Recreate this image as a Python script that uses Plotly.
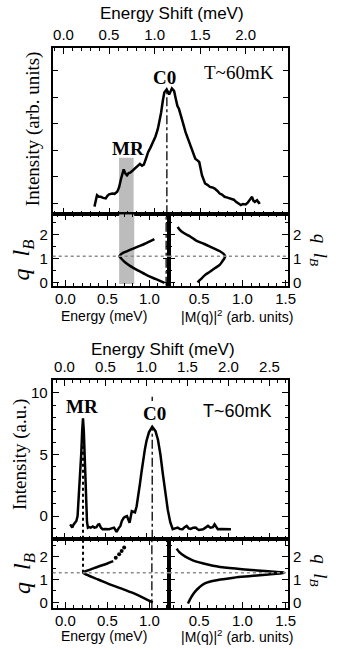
import plotly.graph_objects as go

W, H = 339, 650

# ---------------- upper figure (a) ----------------
# Raman spectrum: energy shift (meV) vs intensity (arb. units)
a_shift = [0.34, 0.355, 0.368, 0.39, 0.41, 0.435, 0.464, 0.48, 0.50, 0.536, 0.56, 0.59,
           0.61, 0.632, 0.661, 0.68, 0.697, 0.715, 0.732, 0.76, 0.786, 0.81, 0.839, 0.862,
           0.882, 0.905, 0.929, 0.955, 0.983, 1.01, 1.036, 1.055, 1.072, 1.09, 1.107, 1.133,
           1.16, 1.19, 1.214, 1.232, 1.25, 1.268, 1.286, 1.31, 1.34, 1.365, 1.393, 1.42,
           1.447, 1.47, 1.49, 1.52, 1.554, 1.58, 1.608, 1.635, 1.66, 1.69, 1.715, 1.74,
           1.768, 1.80, 1.84, 1.87, 1.894, 1.92, 1.947, 1.97, 2.0, 2.02, 2.036, 2.055,
           2.07, 2.085, 2.1, 2.125, 2.145, 2.16]
a_int = [-0.12, 0.15, 0.31, 0.25, 0.25, 0.21, 0.19, 0.28, 0.34, 0.37, 0.36, 0.44,
         0.60, 0.93, 1.28, 1.12, 1.06, 1.14, 1.16, 1.24, 1.33, 1.42, 1.49, 1.42,
         1.46, 1.68, 1.93, 2.10, 2.30, 2.52, 2.80, 3.10, 3.42, 3.85, 4.17, 4.29,
         4.10, 4.32, 4.23, 3.95, 3.67, 3.55, 3.36, 3.05, 2.68, 2.45, 2.24, 1.98,
         1.68, 1.62, 1.56, 1.06, 0.75, 0.70, 0.62, 0.60, 0.56, 0.47, 0.37, 0.33,
         0.25, 0.22, 0.19, 0.14, 0.06, 0.00, -0.06, -0.02, -0.04, 0.02, 0.09, 0.15,
         0.25, 0.10, 0.06, 0.12, 0.02, 0.04]

# magnetoroton dispersion: q l_B vs energy (meV)
a_disp_q = [0.0, 0.15, 0.3, 0.5, 0.7, 0.85, 1.0, 1.1, 1.2, 1.3, 1.4, 1.5, 1.6, 1.7, 1.8]
a_disp_e = [1.18, 1.08, 0.98, 0.87, 0.77, 0.71, 0.665, 0.645, 0.67, 0.73, 0.80, 0.87, 0.94, 1.00, 1.06]

# matrix element |M(q)|^2 vs q l_B
a_mq_q = [2.3, 2.1, 1.9, 1.75, 1.6, 1.45, 1.3, 1.2, 1.1, 1.0, 0.9, 0.75, 0.6, 0.45, 0.3, 0.15, 0.02]
a_mq = [0.25, 0.30, 0.40, 0.46, 0.56, 0.65, 0.74, 0.78, 0.80, 0.79, 0.77, 0.74, 0.68, 0.62, 0.56, 0.52, 0.48]

a_c0_shift = 1.135
a_c0_energy = 1.20
a_mr_shift = [0.61, 0.77]
a_mr_energy = [0.64, 0.82]
a_mr_top = 1.72
a_qmin = 1.1

# ---------------- lower figure (b) ----------------
b_shift = [0.07, 0.085, 0.095, 0.11, 0.127, 0.145, 0.16, 0.175, 0.19, 0.205, 0.216, 0.226,
           0.236, 0.246, 0.256, 0.265, 0.275, 0.286, 0.30, 0.32, 0.345, 0.365, 0.39, 0.41,
           0.425, 0.445, 0.464, 0.50, 0.544, 0.575, 0.604, 0.62, 0.635, 0.66, 0.682, 0.70,
           0.723, 0.745, 0.762, 0.78, 0.794, 0.81, 0.821, 0.84, 0.86, 0.88, 0.90, 0.92,
           0.94, 0.96, 0.98, 1.0, 1.03, 1.07, 1.11, 1.14, 1.17, 1.20, 1.23, 1.26,
           1.29, 1.32, 1.35, 1.38, 1.41, 1.44, 1.465, 1.49, 1.515, 1.54, 1.57, 1.60,
           1.62, 1.64, 1.69, 1.72, 1.75, 1.78, 1.81, 1.83, 1.85, 1.87, 1.91, 1.95,
           1.99, 2.03]
b_int = [-0.67, -0.80, -0.94, -0.70, -0.54, -0.40, 0.0, 1.5, 3.2, 5.1, 6.9, 7.93,
         6.9, 5.1, 2.8, 0.8, -0.5, -0.94, -0.90, -0.95, -0.85, -0.94, -0.90, -0.70,
         -0.67, -0.95, -1.07, -1.05, -1.07, -1.00, -0.94, -1.10, -1.29, -1.00, -0.80, -0.40,
         -0.14, -0.05, 0.0, -0.30, -0.54, 0.0, 0.40, 0.35, 0.30, 0.80, 1.6, 2.6,
         3.6, 4.6, 5.4, 6.1, 6.8, 7.26, 6.9, 6.2, 5.0, 3.4, 1.9, 0.5,
         -0.5, -1.07, -1.00, -0.94, -1.05, -1.07, -0.90, -0.80, -1.00, -1.05, -0.95, -0.94,
         -1.05, -1.13, -1.07, -0.95, -0.80, -0.95, -0.90, -0.67, -0.90, -1.07, -1.05, -1.07,
         -1.05, -1.07]

b_disp_q = [0.0, 0.2, 0.4, 0.6, 0.8, 1.0, 1.1, 1.2, 1.3, 1.4, 1.5, 1.6, 1.7, 1.8]
b_disp_e = [1.04, 0.93, 0.81, 0.67, 0.52, 0.39, 0.32, 0.26, 0.21, 0.27, 0.34, 0.42, 0.50, 0.57]
b_dots_q = [1.95, 2.1, 2.25, 2.4]
b_dots_e = [0.60, 0.64, 0.67, 0.70]

b_mq_q = [2.35, 2.2, 2.0, 1.85, 1.7, 1.6, 1.5, 1.42, 1.36, 1.32, 1.30, 1.27, 1.22, 1.15,
          1.08, 1.0, 0.9, 0.8, 0.65, 0.5, 0.3, 0.1, -0.05]
b_mq = [0.24, 0.27, 0.34, 0.42, 0.55, 0.66, 0.85, 1.10, 1.30, 1.45, 1.48, 1.45, 1.30, 1.10,
        0.90, 0.75, 0.62, 0.55, 0.50, 0.46, 0.42, 0.39, 0.37]

b_mr_shift = 0.226
b_mr_energy = 0.21
b_c0_shift = 1.07
b_c0_energy = 1.03
b_qmin = 1.3

# ---------------- axis ranges ----------------
a_shift_rng = [-0.118, 2.465]
a_int_rng = [-0.41, 5.86]
b_shift_rng = [-0.143, 2.726]
b_int_rng = [-1.85, 11.05]
e_rng = [-0.151, 1.233]
m_rng = [0.15, 1.528]
a_q_rng = [-0.12, 2.82]
b_q_rng = [-0.26, 2.78]

# ---------------- geometry (pixels -> paper) ----------------
def px(x):
    return x / W


def py(y):
    return 1 - y / H


FL, FR, FM = 54, 295, 173
PA = (48, 216, 288)   # top, split, bottom of figure (a)
PB = (383, 543, 613)  # top, split, bottom of figure (b)

SANS = "Liberation Sans, Arial, sans-serif"
SERIF = "Liberation Serif, Times New Roman, serif"


def axis(**kw):
    base = dict(showline=True, linecolor="black", linewidth=2, mirror="ticks",
                ticks="inside", ticklen=6, tickwidth=1.3, tickcolor="black",
                showgrid=False, zeroline=False,
                tickfont=dict(family=SANS, size=15, color="black"))
    base.update(kw)
    return base


def minor(d):
    return dict(dtick=d, ticks="inside", ticklen=3, tickwidth=1, tickcolor="black")


bottom_x = dict(tick0=0, dtick=0.5, tickformat=".1f", minor=minor(0.1), ticklabelstandoff=-2)

layout_axes = dict(
    # figure (a)
    xaxis=axis(domain=[px(FL), px(FR)], range=a_shift_rng, side="top", anchor="y",
               tick0=0, dtick=0.5, tickformat=".1f", minor=minor(0.1)),
    yaxis=axis(domain=[py(PA[1]), py(PA[0])], range=a_int_rng, anchor="x",
               tick0=0, dtick=1, showticklabels=False, ticklen=5),
    xaxis2=axis(domain=[px(FL), px(FM)], range=e_rng, anchor="y2", **bottom_x),
    yaxis2=axis(domain=[py(PA[2]), py(PA[1])], range=a_q_rng, anchor="x2",
                tick0=0, dtick=1, minor=minor(0.5)),
    xaxis3=axis(domain=[px(FM), px(FR)], range=m_rng, anchor="y3", **bottom_x),
    yaxis3=axis(domain=[py(PA[2]), py(PA[1])], range=a_q_rng, anchor="x3", side="right",
                tick0=0, dtick=1, minor=minor(0.5)),
    # figure (b)
    xaxis4=axis(domain=[px(FL), px(FR)], range=b_shift_rng, side="top", anchor="y4",
                tick0=0, dtick=0.5, tickformat=".1f", minor=minor(0.1)),
    yaxis4=axis(domain=[py(PB[1]), py(PB[0])], range=b_int_rng, anchor="x4",
                tick0=0, dtick=5, minor=minor(1)),
    xaxis5=axis(domain=[px(FL), px(FM)], range=e_rng, anchor="y5", **bottom_x),
    yaxis5=axis(domain=[py(PB[2]), py(PB[1])], range=b_q_rng, anchor="x5",
                tick0=0, dtick=1, minor=minor(0.5)),
    xaxis6=axis(domain=[px(FM), px(FR)], range=m_rng, anchor="y6", **bottom_x),
    yaxis6=axis(domain=[py(PB[2]), py(PB[1])], range=b_q_rng, anchor="x6", side="right",
                tick0=0, dtick=1, minor=minor(0.5)),
)

fig = go.Figure()
black = dict(color="black", width=2.5)

fig.add_trace(go.Scatter(x=a_shift, y=a_int, xaxis="x", yaxis="y", mode="lines", line=black))
fig.add_trace(go.Scatter(x=a_disp_e, y=a_disp_q, xaxis="x2", yaxis="y2", mode="lines",
                         line=dict(black, shape="spline")))
fig.add_trace(go.Scatter(x=a_mq, y=a_mq_q, xaxis="x3", yaxis="y3", mode="lines",
                         line=dict(black, shape="spline")))
fig.add_trace(go.Scatter(x=b_shift, y=b_int, xaxis="x4", yaxis="y4", mode="lines", line=black))
fig.add_trace(go.Scatter(x=b_disp_e, y=b_disp_q, xaxis="x5", yaxis="y5", mode="lines",
                         line=dict(black, shape="spline")))
fig.add_trace(go.Scatter(x=b_dots_e, y=b_dots_q, xaxis="x5", yaxis="y5", mode="markers",
                         marker=dict(color="black", size=4)))
fig.add_trace(go.Scatter(x=b_mq, y=b_mq_q, xaxis="x6", yaxis="y6", mode="lines",
                         line=dict(black, shape="spline")))

band = dict(type="rect", fillcolor="#bcbcbc", line=dict(width=0), layer="below")
dashdot = dict(color="black", width=1.3, dash="dashdot")
dotted = dict(color="black", width=2, dash="dot")
grayline = dict(color="#8c8c8c", width=1.5, dash="dot")

shapes = [
    # MR band of figure (a)
    dict(band, xref="x", yref="y", x0=a_mr_shift[0], x1=a_mr_shift[1],
         y0=a_int_rng[0], y1=a_mr_top),
    dict(band, xref="x2", yref="y2", x0=a_mr_energy[0], x1=a_mr_energy[1],
         y0=-0.05, y1=a_q_rng[1]),
    # C0 marker of figure (a)
    dict(type="line", xref="x", yref="y", x0=a_c0_shift, x1=a_c0_shift,
         y0=a_int_rng[0], y1=max(a_int), line=dashdot),
    dict(type="line", xref="x2", yref="y2", x0=a_c0_energy, x1=a_c0_energy,
         y0=a_q_rng[0], y1=a_q_rng[1], line=dashdot),
    # roton minimum of figure (a)
    dict(type="line", xref="x2 domain", yref="y2", x0=0, x1=1, y0=a_qmin, y1=a_qmin, line=grayline),
    dict(type="line", xref="x3 domain", yref="y3", x0=0, x1=1, y0=a_qmin, y1=a_qmin, line=grayline),
    # MR marker of figure (b)
    dict(type="line", xref="x4", yref="y4", x0=b_mr_shift, x1=b_mr_shift,
         y0=b_int_rng[0], y1=max(b_int), line=dotted),
    dict(type="line", xref="x5", yref="y5", x0=b_mr_energy, x1=b_mr_energy,
         y0=b_qmin, y1=b_q_rng[1], line=dotted),
    # C0 marker of figure (b)
    dict(type="line", xref="x4", yref="y4", x0=b_c0_shift, x1=b_c0_shift,
         y0=b_int_rng[0], y1=max(b_int[40:70]), line=dashdot),
    dict(type="line", xref="x4", yref="y4", x0=b_c0_shift, x1=b_c0_shift,
         y0=9.35, y1=9.7, line=dashdot),
    dict(type="line", xref="x5", yref="y5", x0=b_c0_energy, x1=b_c0_energy,
         y0=b_q_rng[0], y1=b_q_rng[1], line=dashdot),
    # roton minimum of figure (b)
    dict(type="line", xref="x5 domain", yref="y5", x0=0, x1=1, y0=b_qmin, y1=b_qmin, line=grayline),
    dict(type="line", xref="x6 domain", yref="y6", x0=0, x1=1, y0=b_qmin, y1=b_qmin, line=grayline),
]


def label(text, x, y, family=SANS, size=15, angle=0, **kw):
    return dict(text=text, x=px(x), y=py(y), xref="paper", yref="paper",
                xanchor="center", yanchor="middle", showarrow=False, textangle=angle,
                font=dict(family=family, size=size, color="black"), **kw)


qlb = "<i>q  l</i><sub><i>B</i></sub>"
annotations = [
    # figure (a)
    label("Energy Shift (meV)", 176, 14, size=17),
    label("Intensity (arb. units)", 34, 130, family=SERIF, size=19, angle=-90),
    label("<b>C0</b>", 168, 78, family=SERIF, size=19),
    label("<b>MR</b>", 131, 150, family=SERIF, size=19),
    label("T~60mK", 245, 73, family=SERIF, size=19),
    label(qlb, 24, 262, family=SERIF, size=24, angle=-90),
    label(qlb, 327, 252, family=SERIF, size=19, angle=90),
    label("Energy (meV)", 107, 318, size=14),
    label("|M(q)|<sup>2</sup> (arb. units)", 243, 318, size=14),
    # figure (b)
    label("Energy Shift (meV)", 167, 352, size=17),
    label("Intensity (a.u.)", 21, 458, family=SERIF, size=19, angle=-90),
    label("<b>MR</b>", 84, 410, family=SERIF, size=19),
    label("<b>C0</b>", 158, 417, family=SERIF, size=19),
    label("T~60mK", 243, 414, size=18),
    label(qlb, 24, 578, family=SERIF, size=24, angle=-90),
    label(qlb, 327, 575, family=SERIF, size=19, angle=90),
    label("Energy (meV)", 107, 641, size=14),
    label("|M(q)|<sup>2</sup> (arb. units)", 243, 641, size=14),
]

fig.update_layout(
    width=W, height=H,
    margin=dict(l=0, r=0, t=0, b=0),
    paper_bgcolor="white", plot_bgcolor="white",
    showlegend=False,
    shapes=shapes,
    annotations=annotations,
    **layout_axes,
)

fig.write_html("out.html")
